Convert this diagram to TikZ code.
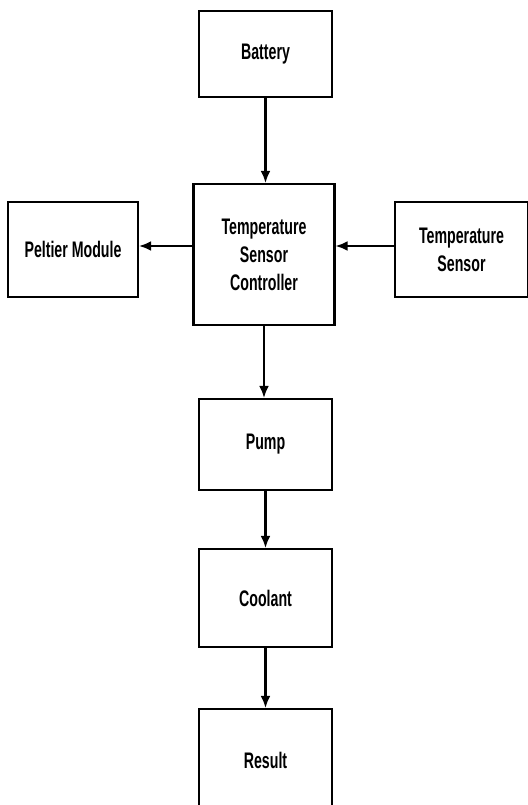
\documentclass[tikz,border=0pt]{standalone}
\usepackage{fontspec}
\setmainfont[FakeStretch=0.63]{Liberation Sans}
\usetikzlibrary{arrows.meta}
\begin{document}
\begin{tikzpicture}[x=1pt, y=-1pt,
    block/.style={draw, line width=2.2pt, align=center, inner sep=0pt,
        font=\bfseries\fontsize{22.5}{28}\selectfont},
    flow/.style={-{Latex[length=12pt,width=10pt]}, line width=2.2pt}]
    \useasboundingbox[fill=white] (0,0) rectangle (527,805);
    % blocks
    \node[block, minimum width=133pt, minimum height=86pt] (battery) at (265.5,54) {Battery};
    \node[block, minimum width=141pt, minimum height=141pt] (ctrl) at (264,254.5) {Temperature\\Sensor\\Controller};
    \node[block, minimum width=130pt, minimum height=95pt] (peltier) at (73,249.5) {Peltier Module};
    \node[block, minimum width=133pt, minimum height=95pt] (tsensor) at (461.5,249.5) {Temperature\\Sensor};
    \node[block, minimum width=133pt, minimum height=91pt] (pump) at (265.5,444.5) {Pump};
    \node[block, minimum width=133pt, minimum height=98pt] (coolant) at (265.5,598) {Coolant};
    \node[block, minimum width=133pt, minimum height=102pt] (result) at (265.5,760) {Result};
    % arrows
    \draw[flow] (battery.south) -- (battery.south |- ctrl.north);
    \draw[flow] (ctrl.west |- 0,246) -- (peltier.east |- 0,246);
    \draw[flow] (tsensor.west |- 0,246) -- (ctrl.east |- 0,246);
    \draw[flow] (ctrl.south) -- (ctrl.south |- pump.north);
    \draw[flow] (pump.south) -- (coolant.north);
    \draw[flow] (coolant.south) -- (result.north);
\end{tikzpicture}
\end{document}
